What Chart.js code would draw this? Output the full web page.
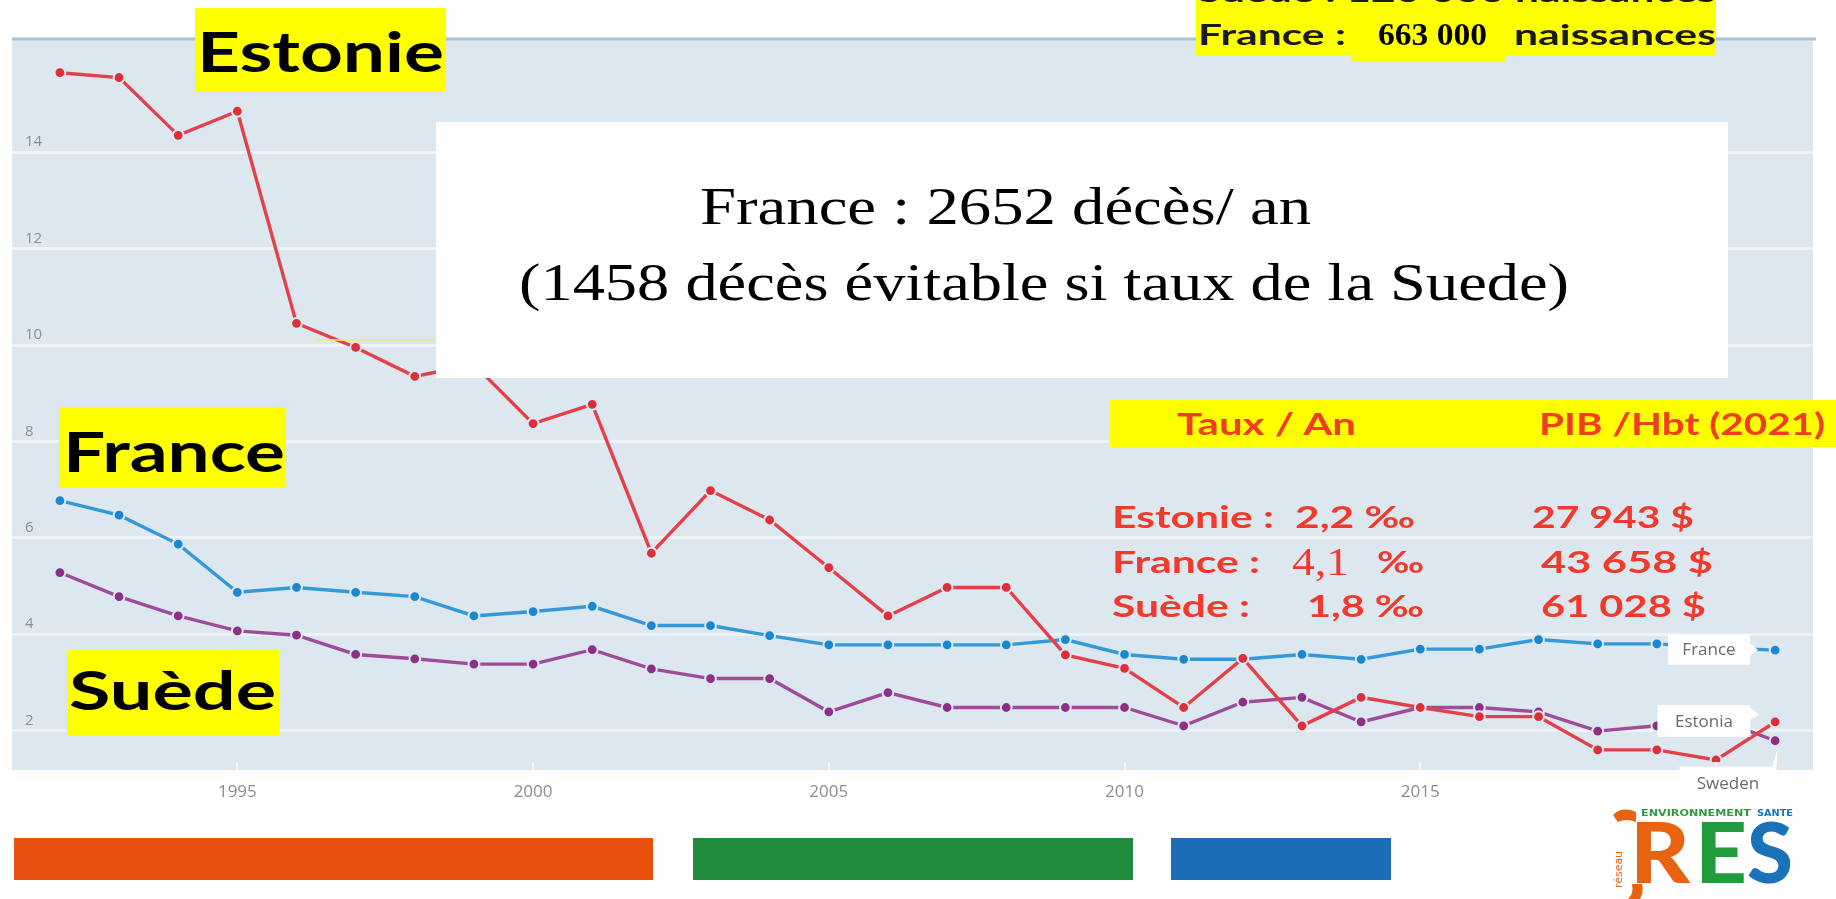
<!DOCTYPE html>
<html>
<head>
<meta charset="utf-8">
<script src="https://cdn.jsdelivr.net/npm/chart.js@4.4.1/dist/chart.umd.min.js"></script>
<style>
  html, body { margin: 0; padding: 0; background: #ffffff; }
  #wrap { position: relative; width: 1836px; height: 899px; overflow: hidden; }
  #c { position: absolute; left: 0; top: 0; }
  #ov { position: absolute; left: 0; top: 0; pointer-events: none; }
</style>
</head>
<body>
<div id="wrap">
  <canvas id="c" width="1836" height="899"></canvas>
  <svg id="ov" width="1836" height="899" viewBox="0 0 1836 899" xmlns="http://www.w3.org/2000/svg">
    <!-- thin yellow artefact -->
    <line x1="314" y1="340" x2="436" y2="340" stroke="#eeea70" stroke-width="1.5"/>

    <!-- Country labels on the left -->
    <rect x="195" y="8" width="251" height="84" fill="#ffff00"/>
    <text x="197" y="72" font-family="Lato" font-weight="700" font-size="56" fill="#000" textLength="247" lengthAdjust="spacingAndGlyphs">Estonie</text>
    <rect x="59" y="407" width="227" height="81" fill="#ffff00"/>
    <text x="63" y="472" font-family="Lato" font-weight="700" font-size="56" fill="#000" textLength="222" lengthAdjust="spacingAndGlyphs">France</text>
    <rect x="67" y="650" width="212" height="85" fill="#ffff00"/>
    <text x="69" y="710" font-family="Lato" font-weight="700" font-size="53" fill="#000" textLength="207" lengthAdjust="spacingAndGlyphs">Suède</text>

    <!-- Top right births -->
    <rect x="1196" y="0" width="520" height="55" fill="#ffff00"/>
    <rect x="1351" y="0" width="154" height="62" fill="#ffff00"/>
    <text x="1198" y="2" font-family="Lato" font-weight="700" font-size="28" fill="#1a1a1a" textLength="518" lengthAdjust="spacingAndGlyphs">Suède : 120 000 naissances</text>
    <text x="1198" y="45" font-family="Lato" font-weight="700" font-size="28" fill="#1a1a1a" textLength="148" lengthAdjust="spacingAndGlyphs">France :</text>
    <text x="1378" y="45" font-family="Liberation Serif" font-weight="700" font-size="31" fill="#000" textLength="109" lengthAdjust="spacingAndGlyphs">663 000</text>
    <text x="1514" y="45" font-family="Lato" font-weight="700" font-size="28" fill="#1a1a1a" textLength="202" lengthAdjust="spacingAndGlyphs">naissances</text>

    <!-- White message box -->
    <rect x="436" y="122" width="1292" height="256" fill="#ffffff"/>
    <text x="700" y="224" font-family="Liberation Serif" font-size="52" fill="#000" textLength="611" lengthAdjust="spacingAndGlyphs">France : 2652 décès/ an</text>
    <text x="519" y="300" font-family="Liberation Serif" font-size="52" fill="#000" textLength="1050" lengthAdjust="spacingAndGlyphs">(1458 décès évitable si taux de la Suede)</text>

    <!-- Rates table -->
    <rect x="1109" y="400" width="727" height="47" fill="#ffff00"/>
    <text x="1177" y="435" font-family="Lato" font-weight="700" font-size="31" fill="#ef3e22" textLength="179" lengthAdjust="spacingAndGlyphs">Taux / An</text>
    <text x="1539" y="435" font-family="Lato" font-weight="700" font-size="31" fill="#ef3e22" textLength="286" lengthAdjust="spacingAndGlyphs">PIB /Hbt (2021)</text>

    <text x="1112" y="528" font-family="Lato" font-weight="700" font-size="30" fill="#f03a2c" textLength="162" lengthAdjust="spacingAndGlyphs">Estonie :</text>
    <text x="1295" y="528" font-family="Lato" font-weight="700" font-size="30" fill="#f03a2c" textLength="120" lengthAdjust="spacingAndGlyphs">2,2 ‰</text>
    <text x="1532" y="528" font-family="Lato" font-weight="700" font-size="30" fill="#f03a2c" textLength="162" lengthAdjust="spacingAndGlyphs">27 943 $</text>

    <text x="1112" y="573" font-family="Lato" font-weight="700" font-size="30" fill="#f03a2c" textLength="148" lengthAdjust="spacingAndGlyphs">France :</text>
    <text x="1292" y="575" font-family="Liberation Serif" font-size="41" fill="#f03a2c" textLength="57" lengthAdjust="spacingAndGlyphs">4,1</text>
    <text x="1377" y="573" font-family="Lato" font-weight="700" font-size="30" fill="#f03a2c" textLength="47" lengthAdjust="spacingAndGlyphs">‰</text>
    <text x="1541" y="573" font-family="Lato" font-weight="700" font-size="30" fill="#f03a2c" textLength="172" lengthAdjust="spacingAndGlyphs">43 658  $</text>

    <text x="1112" y="617" font-family="Lato" font-weight="700" font-size="30" fill="#f03a2c" textLength="138" lengthAdjust="spacingAndGlyphs">Suède :</text>
    <text x="1307" y="617" font-family="Lato" font-weight="700" font-size="30" fill="#f03a2c" textLength="117" lengthAdjust="spacingAndGlyphs">1,8 ‰</text>
    <text x="1541" y="617" font-family="Lato" font-weight="700" font-size="30" fill="#f03a2c" textLength="165" lengthAdjust="spacingAndGlyphs">61 028 $</text>

    <!-- Bottom bars -->
    <rect x="14" y="838" width="639" height="42" fill="#e8510f"/>
    <rect x="693" y="838" width="440" height="42" fill="#1f8b3b"/>
    <rect x="1171" y="838" width="220" height="42" fill="#1c6db5"/>

    <!-- Logo -->
    <text x="1641" y="816" font-family="DejaVu Sans" font-weight="700" font-size="9" fill="#2f9a3f" textLength="110" lengthAdjust="spacingAndGlyphs">ENVIRONNEMENT</text>
    <text x="1757" y="816" font-family="DejaVu Sans" font-weight="700" font-size="9" fill="#1c72b8" textLength="36" lengthAdjust="spacingAndGlyphs">SANTE</text>
    <path d="M1613,815 Q1622,806 1636,812 L1636,822 Q1626,818 1618,822 Z" fill="#e8620f"/>
    <path d="M1632,884 Q1634,894 1628,899 L1640,899 Q1644,892 1642,884 Z" fill="#e8620f"/>
    <text x="1630" y="883" font-family="Lato" font-weight="900" font-size="84" fill="#e8620f" textLength="60" lengthAdjust="spacingAndGlyphs">R</text>
    <text x="1695" y="883" font-family="Lato" font-weight="900" font-size="84" fill="#239a3b" textLength="52" lengthAdjust="spacingAndGlyphs">E</text>
    <text x="1747" y="883" font-family="Lato" font-weight="900" font-size="84" fill="#1a72b8" textLength="46" lengthAdjust="spacingAndGlyphs">S</text>
    <text x="0" y="0" transform="translate(1622,888) rotate(-90)" font-family="DejaVu Sans" font-size="11" fill="#e8620f" textLength="37" lengthAdjust="spacingAndGlyphs">réseau</text>
  </svg>
</div>
<script>
// ---- Data ----
const years = [1992,1993,1994,1995,1996,1997,1998,1999,2000,2001,2002,2003,2004,2005,2006,2007,2008,2009,2010,2011,2012,2013,2014,2015,2016,2017,2018,2019,2020,2021];
const estonia = [15.65,15.55,14.35,14.85,10.45,9.95,9.35,9.6,8.37,8.77,5.68,6.98,6.37,5.38,4.38,4.97,4.97,3.57,3.29,2.48,3.50,2.10,2.69,2.48,2.29,2.29,1.60,1.60,1.39,2.18];
const france  = [6.77,6.47,5.87,4.87,4.97,4.87,4.78,4.38,4.47,4.58,4.18,4.18,3.97,3.78,3.78,3.78,3.78,3.89,3.58,3.48,3.48,3.58,3.48,3.69,3.69,3.89,3.80,3.80,3.72,3.67];
const sweden  = [5.28,4.78,4.38,4.07,3.98,3.58,3.49,3.38,3.38,3.68,3.28,3.08,3.08,2.39,2.79,2.48,2.48,2.48,2.48,2.10,2.59,2.69,2.18,2.48,2.48,2.39,1.99,2.10,2.25,1.79];
const xTickValues = [1995,2000,2005,2010,2015,2020];
const yTickValues = [2,4,6,8,10,12,14];
const endLabels = ['France','Estonia','Sweden'];
const endLabelValues = [3.68, 2.20, 0.91];

const PLOT_BG = '#dce7ef';

const pts = arr => years.map((yr, i) => ({x: yr, y: arr[i]}));

const bgPlugin = {
  id: 'bg',
  beforeDraw(chart) {
    const {ctx, chartArea: a} = chart;
    ctx.save();
    ctx.fillStyle = PLOT_BG;
    ctx.fillRect(a.left, a.top, a.right - a.left, a.bottom - a.top + 8);
    ctx.strokeStyle = '#abc0d3';
    ctx.lineWidth = 3;
    ctx.beginPath();
    ctx.moveTo(a.left, a.top + 1);
    ctx.lineTo(a.right + 3, a.top + 1);
    ctx.stroke();
    ctx.restore();
  }
};

const endLabelPlugin = {
  id: 'endLabels',
  afterDatasetsDraw(chart) {
    const {ctx, scales} = chart;
    const xs = scales.x, ys = scales.y;
    const cfg = [
      {dx: -7, w: 82, h: 30, tail: 'right'},
      {dx: -12, w: 93, h: 32, tail: 'rightTop'},
      {dx: 12, w: 97, h: 33, tail: 'up'}
    ];
    ctx.save();
    endLabels.forEach((lab, i) => {
      const c = cfg[i];
      const cx = xs.getPixelForValue(2020) + c.dx;
      const cy = ys.getPixelForValue(endLabelValues[i]);
      const l = cx - c.w / 2, t = cy - c.h / 2;
      ctx.fillStyle = '#ffffff';
      ctx.fillRect(l, t, c.w, c.h);
      ctx.beginPath();
      if (c.tail === 'right') {
        ctx.moveTo(l + c.w, cy - 6); ctx.lineTo(l + c.w + 8, cy); ctx.lineTo(l + c.w, cy + 6);
      } else if (c.tail === 'rightTop') {
        ctx.moveTo(l + c.w, t + 3); ctx.lineTo(l + c.w + 9, t + 10); ctx.lineTo(l + c.w, t + 14);
      } else {
        ctx.moveTo(l + c.w - 4, t); ctx.lineTo(l + c.w + 1, t - 18); ctx.lineTo(l + c.w, t);
      }
      ctx.closePath();
      ctx.fill();
      ctx.fillStyle = '#6a6a6a';
      ctx.font = '17px "Open Sans"';
      ctx.textAlign = 'center';
      ctx.textBaseline = 'middle';
      ctx.fillText(lab, cx, cy + 1);
    });
    ctx.restore();
  }
};

new Chart(document.getElementById('c'), {
  type: 'line',
  data: {
    datasets: [
      {label: 'Estonia', data: pts(estonia), borderColor: '#e5404a', backgroundColor: '#dd2f3a',
       pointBorderColor: PLOT_BG, pointBackgroundColor: '#dd2f3a'},
      {label: 'France', data: pts(france), borderColor: '#3399d8', backgroundColor: '#1a88d0',
       pointBorderColor: PLOT_BG, pointBackgroundColor: '#1a88d0'},
      {label: 'Sweden', data: pts(sweden), borderColor: '#9e4c98', backgroundColor: '#8c3087',
       pointBorderColor: PLOT_BG, pointBackgroundColor: '#8c3087'}
    ]
  },
  options: {
    responsive: false,
    devicePixelRatio: 1,
    animation: false,
    layout: {padding: {left: 12, right: 23, top: 38, bottom: 0}},
    elements: {
      line: {borderWidth: 3.4, tension: 0},
      point: {radius: 5.4, borderWidth: 2, hoverRadius: 5.4}
    },
    plugins: {legend: {display: false}, tooltip: {enabled: false}},
    scales: {
      x: {
        type: 'linear',
        min: 1991.19, max: 2021.64,
        afterBuildTicks: s => { s.ticks = xTickValues.map(v => ({value: v})); },
        afterFit: s => { s.height = 137; },
        border: {display: false},
        grid: {drawOnChartArea: false, drawTicks: true, tickLength: 8, color: '#f3f7fa', lineWidth: 2},
        ticks: {padding: 12, color: '#8d8d8d', font: {family: 'Open Sans', size: 17}, maxRotation: 0,
                callback: v => String(v)}
      },
      y: {
        min: 1.349, max: 16.37,
        afterBuildTicks: s => { s.ticks = yTickValues.map(v => ({value: v})); },
        afterFit: s => { s.width = 0; },
        border: {display: false},
        grid: {color: '#eff4f8', lineWidth: 3, drawTicks: false},
        ticks: {mirror: true, padding: 13, labelOffset: -10, color: '#8d8d8d',
                font: {family: 'Open Sans', size: 15}, callback: v => String(v)}
      }
    }
  },
  plugins: [bgPlugin, endLabelPlugin]
});
</script>
</body>
</html>
